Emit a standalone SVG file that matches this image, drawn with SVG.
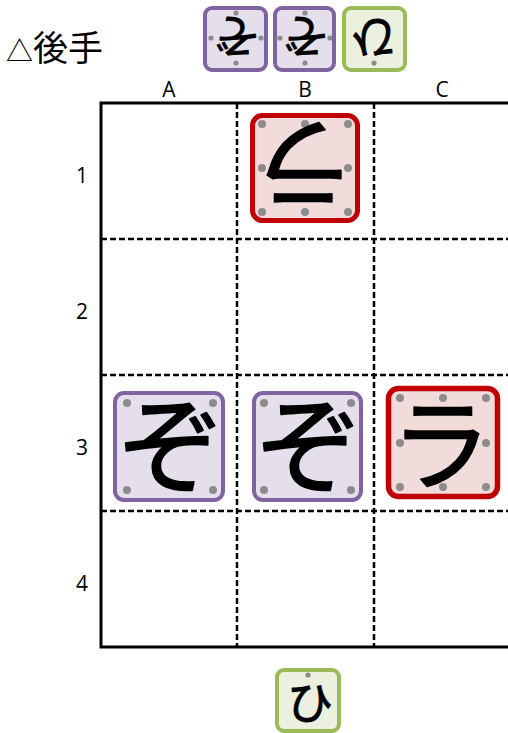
<svg xmlns="http://www.w3.org/2000/svg" width="508" height="733" viewBox="0 0 508 733">
<style>
.lbl{font-family:"Open Sans","Noto Sans",sans-serif;fill:#000}
.g{font-family:"Noto Sans CJK JP","Noto Sans CJK SC",sans-serif;fill:#000;text-anchor:middle;stroke:#000;stroke-width:1.6;stroke-linejoin:round}
.s{stroke-width:0.9}
.p{stroke:#8064A2;fill:#E5DFEC}
.r{stroke:#C00000;fill:#F2DCDB}
.gr{stroke:#9BBB59;fill:#EBF1DE}
.d{fill:#8C8C8C}
.solid{stroke:#000;stroke-width:3;fill:none}
.dash{stroke:#000;stroke-width:2.5;stroke-dasharray:6 3;fill:none}
</style>
<rect width="508" height="733" fill="#fff"/>
<text x="6" y="61" style="font-family:'Noto Sans CJK JP',sans-serif;font-size:35px"><tspan style="font-size:27px">△</tspan>後手</text>
<g id="labels" class="lbl" style="font-size:21px" text-anchor="middle">
<text x="169" y="97">A</text>
<text x="305" y="97">B</text>
<text x="442" y="97">C</text>
<text x="82" y="183">1</text>
<text x="82" y="319">2</text>
<text x="82" y="455">3</text>
<text x="82" y="591">4</text>
</g>
<g id="board">
<line class="dash" x1="237" y1="103" x2="237" y2="647"/>
<line class="dash" x1="374" y1="103" x2="374" y2="647"/>
<line class="dash" x1="101" y1="239" x2="510" y2="239"/>
<line class="dash" x1="101" y1="375" x2="510" y2="375"/>
<line class="dash" x1="101" y1="511" x2="510" y2="511"/>
<path class="solid" d="M510,103 H101 V647 H510"/>
</g>
<g id="hand-zo1">
<rect class="p" x="205" y="8" width="61" height="62" rx="7" stroke-width="4"/>
<circle class="d" cx="236" cy="13" r="2.6"/><circle class="d" cx="211" cy="38" r="2.6"/><circle class="d" cx="261" cy="38" r="2.6"/><circle class="d" cx="236" cy="63" r="2.6"/>
<text class="g s" font-size="46" transform="rotate(180 236 37)" x="236" y="54.5">ぞ</text>
</g>
<g id="hand-zo2">
<rect class="p" x="275" y="8" width="59" height="62" rx="7" stroke-width="4"/>
<circle class="d" cx="305" cy="13" r="2.6"/><circle class="d" cx="280" cy="38" r="2.6"/><circle class="d" cx="330" cy="38" r="2.6"/><circle class="d" cx="305" cy="63" r="2.6"/>
<text class="g s" font-size="46" transform="rotate(180 305 37)" x="305" y="54.5">ぞ</text>
</g>
<g id="hand-hi">
<rect class="gr" x="344" y="8" width="61" height="62" rx="7" stroke-width="4"/>
<circle class="d" cx="374" cy="63" r="2.6"/>
<text class="g s" font-size="46" transform="rotate(180 374 39)" x="374" y="56.5">ひ</text>
</g>
<g id="B1-ra">
<rect class="r" x="252.5" y="115.5" width="105" height="105" rx="10" stroke-width="5"/>
<circle class="d" cx="262" cy="124" r="4"/><circle class="d" cx="305" cy="124" r="4"/><circle class="d" cx="348" cy="124" r="4"/>
<circle class="d" cx="262" cy="168" r="4"/><circle class="d" cx="348" cy="168" r="4"/>
<circle class="d" cx="262" cy="212" r="4"/><circle class="d" cx="305" cy="212" r="4"/><circle class="d" cx="348" cy="212" r="4"/>
<text class="g" font-size="100" transform="rotate(180 305 165)" x="305" y="203">ラ</text>
</g>
<g id="A3-zo">
<rect class="p" x="115" y="393" width="108" height="107" rx="9" stroke-width="4"/>
<circle class="d" cx="127" cy="403" r="4"/><circle class="d" cx="213" cy="403" r="4"/><circle class="d" cx="127" cy="490" r="4"/><circle class="d" cx="213" cy="490" r="4"/>
<text class="g" font-size="106" x="171" y="485">ぞ</text>
</g>
<g id="B3-zo">
<rect class="p" x="254" y="393" width="107" height="107" rx="9" stroke-width="4"/>
<circle class="d" cx="264" cy="403" r="4"/><circle class="d" cx="351" cy="403" r="4"/><circle class="d" cx="264" cy="490" r="4"/><circle class="d" cx="351" cy="490" r="4"/>
<text class="g" font-size="106" x="309" y="485">ぞ</text>
</g>
<g id="C3-ra">
<rect class="r" x="388.5" y="388.5" width="109" height="108" rx="10" stroke-width="5.5"/>
<circle class="d" cx="400" cy="398" r="4"/><circle class="d" cx="443" cy="398" r="4"/><circle class="d" cx="486" cy="398" r="4"/>
<circle class="d" cx="400" cy="443" r="4"/><circle class="d" cx="486" cy="443" r="4"/>
<circle class="d" cx="400" cy="487" r="4"/><circle class="d" cx="443" cy="487" r="4"/><circle class="d" cx="486" cy="487" r="4"/>
<text class="g" font-size="100" x="441" y="482">ラ</text>
</g>
<g id="hand-sente-hi">
<rect class="gr" x="277" y="670" width="62" height="61" rx="7" stroke-width="4"/>
<circle class="d" cx="308" cy="675" r="2.6"/>
<text class="g s" font-size="46" x="310" y="719">ひ</text>
</g>
</svg>
